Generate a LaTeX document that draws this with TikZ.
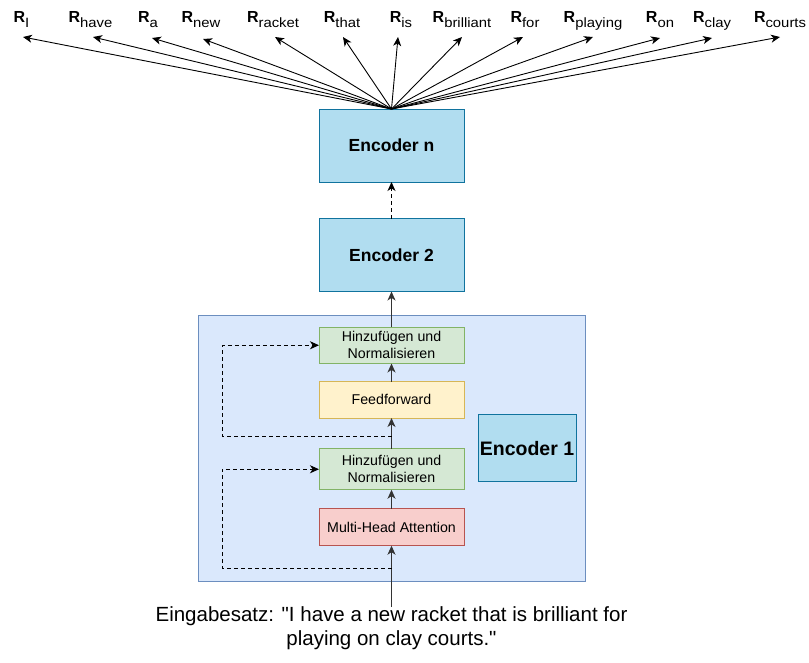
\documentclass[tikz,border=0pt]{standalone}
\usepackage{fontspec}
\setmainfont{Liberation Sans}[Ligatures=TeXOff]
\usetikzlibrary{arrows.meta}

\definecolor{encfill}{HTML}{B1DDF0}
\definecolor{encdraw}{HTML}{10739E}
\definecolor{contfill}{HTML}{DAE8FC}
\definecolor{contdraw}{HTML}{6C8EBF}
\definecolor{grnfill}{HTML}{D5E8D4}
\definecolor{grndraw}{HTML}{82B366}
\definecolor{ylwfill}{HTML}{FFF2CC}
\definecolor{ylwdraw}{HTML}{D6B656}
\definecolor{redfill}{HTML}{F8CECC}
\definecolor{reddraw}{HTML}{B85450}
\definecolor{linegray}{HTML}{333333}

% R label with word subscript
\newcommand\rlab[1]{{\fontsize{16}{16}\selectfont\bfseries R}\raisebox{-5pt}{\scalebox{1.1}[1]{\fontsize{13.5}{13.5}\selectfont #1}}}

\begin{document}
\begin{tikzpicture}[x=1pt,y=-1pt,
  every node/.style={inner sep=0pt, outer sep=0pt},
  encbox/.style={draw=encdraw, fill=encfill, line width=1pt, minimum width=145pt, minimum height=73pt,
    font=\fontsize{17.5}{21}\selectfont\bfseries},
  layerbox/.style={line width=1pt, minimum width=145pt, minimum height=37pt, align=center,
    font=\fontsize{14.2}{17}\selectfont},
  tip/.style={-{Stealth[length=9pt,width=8pt,inset=2.6pt]}},
  conn/.style={tip, line width=1.2pt, draw=linegray},
  skip/.style={tip, line width=1pt, draw=black, dash pattern=on 4pt off 3pt},
  fan/.style={tip, line width=0.9pt, draw=black},
  rlabel/.style={anchor=base}
]
\useasboundingbox (0,0) rectangle (809,662);

% encoder stack
\node[encbox] (encn) at (391.5,145.5) {Encoder n};
\node[encbox] (enc2) at (391.5,255) {Encoder 2};

% first encoder with its sublayers
\node[draw=contdraw, fill=contfill, line width=1pt, minimum width=387pt, minimum height=266.5pt] (cont) at (391.5,448.25) {};
\node[draw=encdraw, fill=encfill, line width=1pt, minimum width=98pt, minimum height=66.7pt,
  font=\fontsize{19.5}{23}\selectfont\bfseries] (enc1) at (527,448.3) {Encoder 1};

\node[layerbox, draw=grndraw, fill=grnfill, minimum height=36.5pt] (add2) at (391.5,345.25) {Hinzufügen und\\Normalisieren};
\node[layerbox, draw=ylwdraw, fill=ylwfill, minimum height=36.5pt] (ffw) at (391.5,399.75) {Feedforward};
\node[layerbox, draw=grndraw, fill=grnfill, minimum height=41pt] (add1) at (391.5,469.25) {Hinzufügen und\\Normalisieren};
\node[layerbox, draw=reddraw, fill=redfill] (mha) at (391.5,527.2) {Multi-Head Attention};

% input sentence
\node[anchor=north, align=center, font=\fontsize{20.5}{23.5}\selectfont] (inp) at (391.5,607)
  {Eingabesatz: "I have a new racket that is brilliant for\\playing on clay courts."};

% main data flow
\draw[conn] (inp.north) -- (mha.south);
\draw[conn] (mha.north) -- (add1.south);
\draw[conn] (add1.north) -- (ffw.south);
\draw[conn] (ffw.north) -- (add2.south);
\draw[conn] (add2.north) -- (enc2.south);
\draw[skip] (enc2.north) -- (encn.south);

% residual connections
\coordinate (res1) at (391.5,568.5);
\coordinate (res2) at (391.5,436);
\draw[skip] (res1) -- ++(-169.5,0) |- (add1.west);
\draw[skip] (res2) -- ++(-169.5,0) |- (add2.west);

% output representations
\foreach \nm/\lx/\tx/\ty in {I/21.5/23/37, have/90.5/93/37, a/148/152/38, new/201/203/39,
    racket/273/275/37, that/342/343/37, is/401/398/37, brilliant/462/462/37,
    for/525/523/37, playing/593/593/37, on/660/660/38, clay/712/712/38, courts/780/780/37}{
  \node[rlabel] (r-\nm) at (\lx,22) {\rlab{\nm}};
  \coordinate (t-\nm) at (\tx,\ty);
  \draw[fan] (encn.north) -- (t-\nm);
}
\end{tikzpicture}
\end{document}
